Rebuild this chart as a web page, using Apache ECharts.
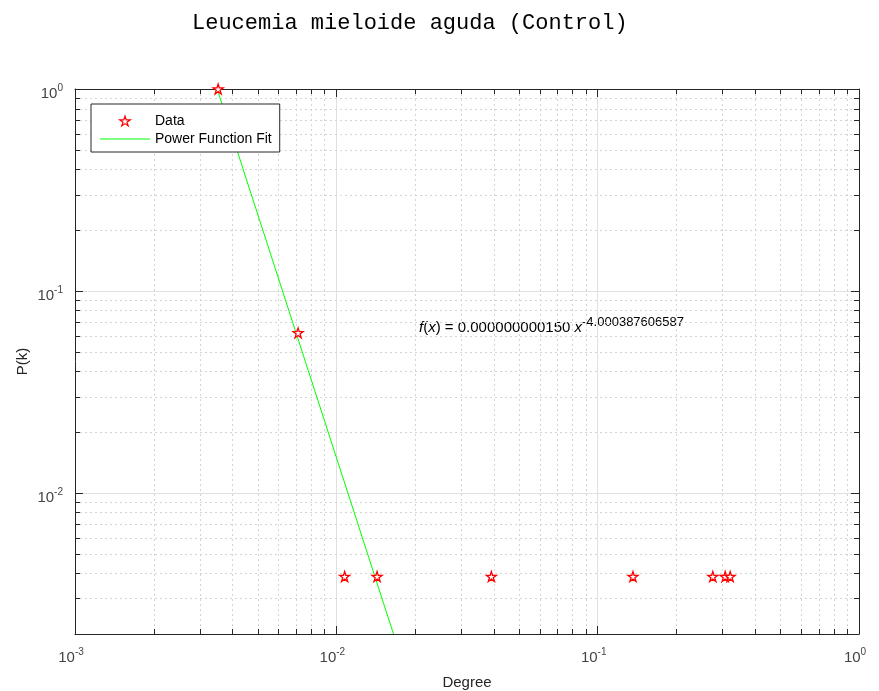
<!DOCTYPE html>
<html>
<head>
<meta charset="utf-8">
<title>Leucemia mieloide aguda (Control)</title>
<script src="https://cdn.jsdelivr.net/npm/echarts@6/dist/echarts.min.js"></script>
<style>
    html, body { margin: 0; padding: 0; background: #fff; }
    #chart1 { width: 879px; height: 691px; }
</style>
</head>
<body>
<div id="chart1"></div>
<script>
    // puntos
    var degree = [0.00353, 0.00714, 0.01076, 0.01432, 0.0392, 0.1365, 0.2758, 0.3075, 0.3213];
    var prob = [1.0, 0.0620, 0.00385, 0.00385, 0.00385, 0.00385, 0.00385, 0.00385, 0.00385];
    // recta del ajuste (extremos visibles)
    var fitX = [0.0035, 0.01655];
    var fitY = [1.0, 0.002];
    // ticks menores
    var xMinor = [0.002, 0.003, 0.004, 0.005, 0.006, 0.007, 0.008, 0.009,
                  0.02, 0.03, 0.04, 0.05, 0.06, 0.07, 0.08, 0.09,
                  0.2, 0.3, 0.4, 0.5, 0.6, 0.7, 0.8, 0.9];
    var yMinor = [0.003, 0.004, 0.005, 0.006, 0.007, 0.008, 0.009,
                  0.02, 0.03, 0.04, 0.05, 0.06, 0.07, 0.08, 0.09,
                  0.2, 0.3, 0.4, 0.5, 0.6, 0.7, 0.8, 0.9];
    var xMin = 0.001, xMax = 1, yMin = 0.002, yMax = 1;

    var star = 'path://M50,0L61.2,34.6L97.6,34.5L68.1,55.9L79.4,90.5L50,69L20.6,90.5L31.9,55.9L2.4,34.5L38.8,34.6Z';
    var lineIcon = 'path://M0,4.5L50,4.5L50,5.5L0,5.5Z';
    var axisColor = '#262626';
    var font = 'Liberation Sans';

    function powLabel(value) {
        var e = Math.log10(value);
        var r = Math.round(e);
        if (Math.abs(e - r) > 1e-6) return '';
        return '{b|10}{s|' + r + '}';
    }
    var labelRich = {
        b: { fontSize: 15, lineHeight: 22, fontFamily: font, color: '#444' },
        s: { fontSize: 10, lineHeight: 12, verticalAlign: 'top', fontFamily: font, color: '#444' }
    };

    function px(v) { return Math.round(v) + 0.5; }

    var myChart1 = echarts.init(document.getElementById('chart1'));
    myChart1.setOption({
        animation: false,
        title: {
            text: 'Leucemia mieloide aguda (Control)',
            left: 187, top: 7,
            textStyle: { fontFamily: 'Liberation Mono', fontSize: 22, fontWeight: 'normal', color: '#000' }
        },
        grid: { left: 75, right: 20, top: 89, bottom: 57, outerBoundsMode: 'none', containLabel: false },
        legend: {
            data: [
                { name: 'Data', icon: star, itemStyle: { color: '#fff', borderColor: '#ff0000', borderWidth: 1.2 } },
                { name: 'Power Function Fit', icon: lineIcon, itemStyle: { color: '#00ff00' } }
            ],
            orient: 'vertical',
            left: 91, top: 104,
            padding: [10, 8, 6, 9],
            itemGap: 4,
            itemWidth: 50,
            itemHeight: 10,
            borderColor: axisColor,
            borderWidth: 1,
            backgroundColor: '#fff',
            textStyle: { fontFamily: font, fontSize: 14, color: '#000' }
        },
        xAxis: [{
            type: 'log', logBase: 10, min: xMin, max: xMax,
            name: 'Degree', nameLocation: 'middle', nameGap: 41,
            nameTextStyle: { fontFamily: font, fontSize: 15, color: axisColor },
            axisLine: { lineStyle: { color: axisColor } },
            axisTick: { inside: true, length: 8, lineStyle: { color: axisColor } },
            axisLabel: { formatter: powLabel, rich: labelRich, margin: 13, padding: [0, 8, 0, 0] },
            splitLine: { show: true, lineStyle: { color: '#e0e0e0' } }
        }, {
            type: 'log', logBase: 10, min: xMin, max: xMax, position: 'top',
            axisLine: { lineStyle: { color: axisColor } },
            axisTick: { inside: true, length: 8, lineStyle: { color: axisColor } },
            axisLabel: { show: false },
            splitLine: { show: false }
        }],
        yAxis: [{
            type: 'log', logBase: 10, min: yMin, max: yMax,
            name: 'P(k)', nameLocation: 'middle', nameGap: 45, nameMoveOverlap: false,
            nameTextStyle: { fontFamily: font, fontSize: 15, color: axisColor },
            axisLine: { lineStyle: { color: axisColor } },
            axisTick: { inside: true, length: 8, lineStyle: { color: axisColor } },
            axisLabel: { formatter: powLabel, rich: labelRich, margin: 12, padding: [10, 0, 0, 0] },
            splitLine: { show: true, lineStyle: { color: '#e0e0e0' } }
        }, {
            type: 'log', logBase: 10, min: yMin, max: yMax, position: 'right',
            axisLine: { lineStyle: { color: axisColor } },
            axisTick: { inside: true, length: 8, lineStyle: { color: axisColor } },
            axisLabel: { show: false },
            splitLine: { show: false }
        }],
        graphic: [{
            type: 'text', left: 419, top: 316,
            style: {
                text: '{i|f}({i|x}) = 0.000000000150 {i|x}{s|-4.000387606587}',
                fontFamily: font, fontSize: 15, fill: '#000',
                rich: {
                    i: { fontStyle: 'italic', fontSize: 15, lineHeight: 24, fontFamily: font },
                    s: { fontSize: 13, lineHeight: 13, verticalAlign: 'top', fontFamily: font }
                }
            }
        }],
        series: [{
            type: 'custom', name: 'xminor', silent: true, z: 1,
            data: xMinor.map(function (v) { return [v, yMax]; }),
            renderItem: function (params, api) {
                var v = api.value(0);
                var t = api.coord([v, yMax]), b = api.coord([v, yMin]);
                var x = px(t[0]);
                return { type: 'group', children: [
                    { type: 'line', shape: { x1: x, y1: t[1], x2: x, y2: b[1] }, style: { stroke: '#d4d4d4', lineWidth: 1, lineDash: [2, 3] } },
                    { type: 'line', shape: { x1: x, y1: b[1], x2: x, y2: b[1] - 5 }, style: { stroke: axisColor, lineWidth: 1 } },
                    { type: 'line', shape: { x1: x, y1: t[1], x2: x, y2: t[1] + 5 }, style: { stroke: axisColor, lineWidth: 1 } }
                ] };
            }
        }, {
            type: 'custom', name: 'yminor', silent: true, z: 1,
            data: yMinor.map(function (v) { return [xMin, v]; }),
            renderItem: function (params, api) {
                var v = api.value(1);
                var l = api.coord([xMin, v]), r = api.coord([xMax, v]);
                var y = px(l[1]);
                return { type: 'group', children: [
                    { type: 'line', shape: { x1: l[0], y1: y, x2: r[0], y2: y }, style: { stroke: '#d4d4d4', lineWidth: 1, lineDash: [2, 3] } },
                    { type: 'line', shape: { x1: l[0], y1: y, x2: l[0] + 5, y2: y }, style: { stroke: axisColor, lineWidth: 1 } },
                    { type: 'line', shape: { x1: r[0], y1: y, x2: r[0] - 5, y2: y }, style: { stroke: axisColor, lineWidth: 1 } }
                ] };
            }
        }, {
            type: 'line', name: 'Power Function Fit', z: 3,
            data: fitX.map(function (x, i) { return [x, fitY[i]]; }),
            symbol: 'none',
            lineStyle: { color: '#00ff00', width: 1 },
            itemStyle: { color: '#00ff00' }
        }, {
            type: 'scatter', name: 'Data', z: 4,
            data: degree.map(function (x, i) { return [x, prob[i]]; }),
            symbol: star, symbolSize: 10,
            itemStyle: { color: '#fff', borderColor: '#ff0000', borderWidth: 1.3, opacity: 1 }
        }]
    });
</script>
</body>
</html>
